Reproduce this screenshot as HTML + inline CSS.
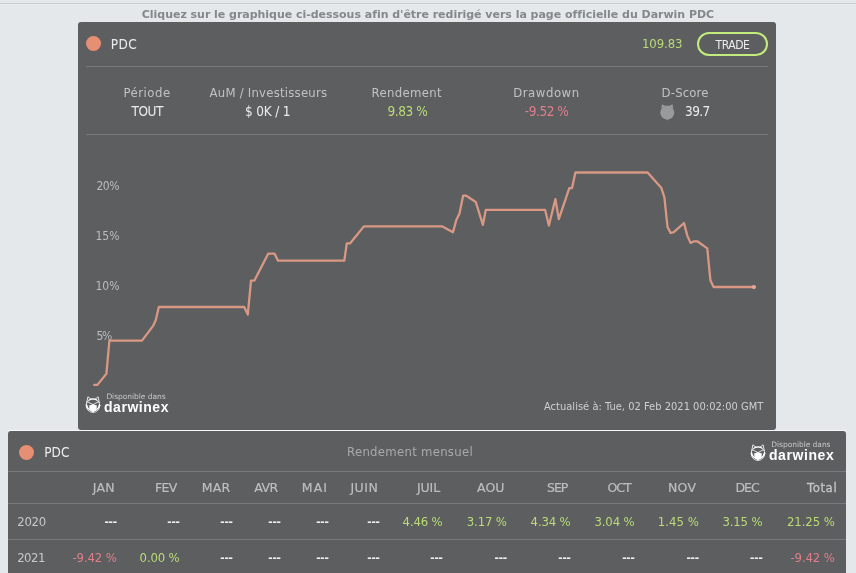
<!DOCTYPE html>
<html lang="fr">
<head>
<meta charset="utf-8">
<title>Darwin PDC</title>
<style>
html,body{margin:0;padding:0;}
body{width:856px;height:573px;overflow:hidden;background:#e4e8eb;position:relative;font-family:"DejaVu Sans Condensed","Liberation Sans",sans-serif;font-size:13px;}
.abs{position:absolute;white-space:nowrap;line-height:1;}
#topline{left:0;top:3px;width:856px;height:1px;background:#c9cdd0;}
#topline2{left:0;top:4px;width:856px;height:1px;background:#e9edf0;}
.ttl{font-family:"DejaVu Sans","Liberation Sans",sans-serif;font-weight:bold;color:#84888c;}
.panel{background:#5c5e60;}
#p1{left:78px;top:22px;width:698px;height:408px;border-radius:3px;}
#gap{left:8px;top:430px;width:838px;height:1px;background:#f5f7f8;}
#p2{left:8px;top:431px;width:838px;height:150px;border-radius:3px 3px 0 0;}
.dot{width:15px;height:15px;border-radius:50%;background:#e68f72;}
.sep{height:1px;background:#77797b;}
.lbl{color:#c2c2c2;}
.val{color:#ececec;}
.g{color:#bbdb76;}
.r{color:#e07f8a;}
.ylb{color:#bcbcbc;}
.upd{color:#cfcfcf;}
.lga{color:#c8c8c8;font-family:"DejaVu Sans","Liberation Sans",sans-serif;}
.lgb{font-family:"Liberation Sans","DejaVu Sans",sans-serif;font-weight:bold;color:#fff;}
.rm{color:#a9a9a9;}
.th{color:#bebebe;font-family:"DejaVu Sans","Liberation Sans",sans-serif;-webkit-text-stroke:0.2px #bebebe;}
.tot{font-family:"DejaVu Sans Condensed","Liberation Sans",sans-serif;color:#c4c4c4;-webkit-text-stroke:0.3px #c4c4c4;}
.yr{color:#c8c8c8;}
.dash{font-family:"Liberation Sans","DejaVu Sans",sans-serif;font-weight:bold;color:#f2f2f2;}
#trade{left:697px;top:32px;width:67px;height:20px;border:2px solid #c3ec7c;border-radius:12px;}
</style>
</head>
<body>
<div class="abs" id="topline"></div>
<div class="abs" id="topline2"></div>
<div class="abs ttl" id="title" style="left:141.80px;top:9.00px;letter-spacing:-0.028px;font-size:11px;">Cliquez sur le graphique ci-dessous afin d'être redirigé vers la page officielle du Darwin PDC</div>

<div class="abs panel" id="p1"></div>
<div class="abs" id="gap"></div>
<div class="abs panel" id="p2"></div>

<section id="widget-chart">
<header>
<!-- panel 1 header -->
<div class="abs dot" style="left:86px;top:36px;"></div>
<div class="abs val" id="pdc1" style="left:110.80px;top:38.00px;letter-spacing:0.411px;font-size:13.5px;">PDC</div>
<div class="abs val g" id="quote" style="left:641.90px;top:37.00px;letter-spacing:-0.054px;">109.83</div>
<div class="abs" id="trade"></div>
<div class="abs val" id="tradet" style="left:715.50px;top:39.00px;letter-spacing:-0.451px;font-size:12px;">TRADE</div>
<div class="abs sep" style="left:86px;top:66px;width:682px;"></div>
<div class="abs sep" style="left:86px;top:134px;width:682px;"></div>

</header>
<!-- stats -->
<div id="stats">
<div class="abs lbl" id="l1" style="left:123.40px;top:86.00px;letter-spacing:0.530px;">Période</div>
<div class="abs val" id="v1" style="left:131.60px;top:105.00px;letter-spacing:-0.522px;font-size:13.5px;">TOUT</div>
<div class="abs lbl" id="l2" style="left:209.60px;top:86.00px;letter-spacing:0.223px;">AuM / Investisseurs</div>
<div class="abs val" id="v2" style="left:245.00px;top:105.00px;letter-spacing:-0.182px;font-size:13.5px;">$ 0K / 1</div>
<div class="abs lbl" id="l3" style="left:371.60px;top:86.00px;letter-spacing:0.339px;">Rendement</div>
<div class="abs val g" id="v3" style="left:387.50px;top:105.00px;letter-spacing:-0.418px;font-size:13.5px;">9.83 %</div>
<div class="abs lbl" id="l4" style="left:513.20px;top:86.00px;letter-spacing:0.544px;">Drawdown</div>
<div class="abs val r" id="v4" style="left:524.80px;top:105.00px;letter-spacing:-0.462px;font-size:13.5px;">-9.52 %</div>
<div class="abs lbl" id="l5" style="left:661.60px;top:86.00px;letter-spacing:0.157px;">D-Score</div>
<div class="abs val" id="v5" style="left:685.00px;top:105.00px;letter-spacing:-0.569px;font-size:13.5px;">39.7</div>
<svg class="abs" id="dowl" style="left:659px;top:103px;" width="17" height="18" viewBox="0 0 17 18">
<g fill="#9a9a9a">
<circle cx="8.3" cy="9.6" r="7"/>
<path d="M2.2,5.6 L3.1,1.3 L6.6,2.9 Z M14.4,5.6 L13.5,1.3 L10,2.9 Z M7,16.2 L8.3,17.4 L9.6,16.2 Z"/>
</g>
</svg>

</div>
<!-- chart -->
<figure id="chartwrap" style="margin:0">
<div class="abs ylb" id="y20" style="left:96.40px;top:180.00px;letter-spacing:-0.467px;font-size:12px;">20%</div>
<div class="abs ylb" id="y15" style="left:95.40px;top:230.00px;letter-spacing:0.033px;font-size:12px;">15%</div>
<div class="abs ylb" id="y10" style="left:95.40px;top:280.00px;letter-spacing:0.033px;font-size:12px;">10%</div>
<div class="abs ylb" id="y5" style="left:96.40px;top:330.00px;letter-spacing:-1.267px;font-size:12px;">5%</div>
<svg class="abs" id="chart" style="left:78px;top:135px;" width="698" height="294" viewBox="78 135 698 294">
<polyline fill="none" stroke="#d89884" stroke-width="2.3" stroke-linejoin="round" stroke-linecap="round" points="94.2,384.9 97.4,384.9 106.4,373.8 109.4,340.6 142,340.6 153.3,325.6 155.8,320.1 158.8,307 244.2,307 247.8,314.6 251,280.6 254.4,280.6 268.2,253.7 274.6,253.7 278,260.7 344.3,260.7 346.8,243.3 350.2,243.3 363.9,226.4 442.4,226.4 453,232.3 456.4,219.7 459.5,213.5 463.1,195.7 466.2,195.7 475.8,202 482.9,224.9 485.8,209.8 545.1,209.8 548.9,225.6 555.4,199.1 558.8,219.1 569.3,188.1 572,188.1 575.4,172.5 647.6,172.5 661.2,187.7 664.4,197.4 667.5,227 670.6,233 673.8,232.2 684,223 687.4,235.9 690.5,242.9 694.2,241.3 697.3,241.3 707.3,248.4 710.4,280.3 713.6,287 753.8,287"/>
<circle cx="753.9" cy="287.1" r="2.1" fill="#e6a898"/>
</svg>
<div class="abs upd" id="upd" style="left:544.00px;top:400.50px;letter-spacing:0.026px;font-size:11px;">Actualisé à: Tue, 02 Feb 2021 00:02:00 GMT</div>

</figure>
<footer>
<!-- logo 1 -->
<svg class="abs owl" style="left:85px;top:395.5px;" width="16" height="18" viewBox="0 0 16 18">
<g fill="none" stroke="#fff" stroke-width="0.85" stroke-linejoin="round" stroke-linecap="round">
<circle cx="8" cy="9.6" r="6.8"/>
<path d="M1.7,6.6 L2.9,0.8 L5.9,3.2 M14.3,6.6 L13.1,0.8 L10.1,3.2"/>
<path d="M3.4,6.2 L8,8.6 L12.6,6.2" stroke-width="0.8"/>
<path d="M4.2,4 Q8,2 11.8,4" stroke-width="1.1"/>
<path d="M1.5,9 A6.6,6.6 0 0 0 14.5,9" stroke-width="1.5"/>
</g>
<path d="M4.1,9.4 L8,8.2 L11.9,9.4 L11.3,14 L8,16.4 L4.7,14 Z" fill="#fff"/>
</svg>
<div class="abs lga" id="lg1a" style="left:106.40px;top:393.00px;letter-spacing:-0.043px;font-size:7.5px;">Disponible dans</div>
<div class="abs lgb" id="lg1b" style="left:104.00px;top:400.00px;letter-spacing:0.542px;font-size:14px;">darwinex</div>

</footer>
</section>
<section id="widget-monthly">
<!-- panel 2 -->
<div class="abs dot" style="left:19px;top:445px;"></div>
<div class="abs val" id="pdc2" style="left:44.20px;top:446.00px;letter-spacing:0.061px;font-size:13.5px;">PDC</div>
<div class="abs rm" id="rm" style="left:347.10px;top:445.00px;letter-spacing:0.282px;">Rendement mensuel</div>
<svg class="abs owl" style="left:750px;top:443.5px;" width="16" height="18" viewBox="0 0 16 18">
<g fill="none" stroke="#fff" stroke-width="0.85" stroke-linejoin="round" stroke-linecap="round">
<circle cx="8" cy="9.6" r="6.8"/>
<path d="M1.7,6.6 L2.9,0.8 L5.9,3.2 M14.3,6.6 L13.1,0.8 L10.1,3.2"/>
<path d="M3.4,6.2 L8,8.6 L12.6,6.2" stroke-width="0.8"/>
<path d="M4.2,4 Q8,2 11.8,4" stroke-width="1.1"/>
<path d="M1.5,9 A6.6,6.6 0 0 0 14.5,9" stroke-width="1.5"/>
</g>
<path d="M4.1,9.4 L8,8.2 L11.9,9.4 L11.3,14 L8,16.4 L4.7,14 Z" fill="#fff"/>
</svg>
<div class="abs lga" id="lg2a" style="left:771.30px;top:441.00px;letter-spacing:-0.043px;font-size:7.5px;">Disponible dans</div>
<div class="abs lgb" id="lg2b" style="left:769.00px;top:448.00px;letter-spacing:0.571px;font-size:14px;">darwinex</div>
<div class="abs sep" style="left:8px;top:471px;width:838px;"></div>
<div class="abs sep" style="left:8px;top:503px;width:838px;"></div>
<div class="abs sep" style="left:8px;top:539px;width:838px;"></div>
<div class="abs th" id="h0" style="left:92.80px;top:482.00px;letter-spacing:0.241px;font-size:12.5px;">JAN</div>
<div class="abs th" id="h1" style="left:155.00px;top:482.00px;letter-spacing:-0.694px;font-size:12.5px;">FEV</div>
<div class="abs th" id="h2" style="left:201.70px;top:482.00px;letter-spacing:0.182px;font-size:12.5px;">MAR</div>
<div class="abs th" id="h3" style="left:254.20px;top:482.00px;letter-spacing:-0.501px;font-size:12.5px;">AVR</div>
<div class="abs th" id="h4" style="left:301.80px;top:482.00px;letter-spacing:1.082px;font-size:12.5px;">MAI</div>
<div class="abs th" id="h5" style="left:350.40px;top:482.00px;letter-spacing:0.493px;font-size:12.5px;">JUIN</div>
<div class="abs th" id="h6" style="left:417.00px;top:482.00px;letter-spacing:-0.107px;font-size:12.5px;">JUIL</div>
<div class="abs th" id="h7" style="left:477.00px;top:482.00px;letter-spacing:0.065px;font-size:12.5px;">AOU</div>
<div class="abs th" id="h8" style="left:547.10px;top:482.00px;letter-spacing:-1.066px;font-size:12.5px;">SEP</div>
<div class="abs th" id="h9" style="left:607.50px;top:482.00px;letter-spacing:-0.983px;font-size:12.5px;">OCT</div>
<div class="abs th" id="h10" style="left:667.90px;top:482.00px;letter-spacing:0.365px;font-size:12.5px;">NOV</div>
<div class="abs th" id="h11" style="left:735.50px;top:482.00px;letter-spacing:-1.012px;font-size:12.5px;">DEC</div>
<div class="abs th tot" id="h12" style="left:807.10px;top:481.00px;letter-spacing:0.616px;">Total</div>
<div class="abs yr" id="yr0" style="left:17.20px;top:515.00px;letter-spacing:-0.239px;">2020</div>
<div class="abs td dash" id="a0" style="left:104.40px;top:515.00px;letter-spacing:-0.179px;">---</div>
<div class="abs td dash" id="a1" style="left:167.30px;top:515.00px;letter-spacing:-0.179px;">---</div>
<div class="abs td dash" id="a2" style="left:220.30px;top:515.00px;letter-spacing:-0.179px;">---</div>
<div class="abs td dash" id="a3" style="left:268.30px;top:515.00px;letter-spacing:-0.179px;">---</div>
<div class="abs td dash" id="a4" style="left:316.20px;top:515.00px;letter-spacing:-0.179px;">---</div>
<div class="abs td dash" id="a5" style="left:367.30px;top:515.00px;letter-spacing:-0.179px;">---</div>
<div class="abs td g" id="a6" style="left:402.60px;top:515.00px;letter-spacing:-0.149px;">4.46 %</div>
<div class="abs td g" id="a7" style="left:466.80px;top:515.00px;letter-spacing:-0.149px;">3.17 %</div>
<div class="abs td g" id="a8" style="left:530.60px;top:515.00px;letter-spacing:-0.149px;">4.34 %</div>
<div class="abs td g" id="a9" style="left:594.50px;top:515.00px;letter-spacing:-0.149px;">3.04 %</div>
<div class="abs td g" id="a10" style="left:657.70px;top:515.00px;letter-spacing:0.051px;">1.45 %</div>
<div class="abs td g" id="a11" style="left:722.40px;top:515.00px;letter-spacing:-0.149px;">3.15 %</div>
<div class="abs td g" id="a12" style="left:787.00px;top:515.00px;letter-spacing:-0.081px;">21.25 %</div>
<div class="abs yr" id="yr1" style="left:17.20px;top:551.00px;letter-spacing:-0.506px;">2021</div>
<div class="abs td r" id="b0" style="left:72.50px;top:551.00px;letter-spacing:-0.128px;">-9.42 %</div>
<div class="abs td g" id="b1" style="left:139.60px;top:551.00px;letter-spacing:-0.149px;">0.00 %</div>
<div class="abs td dash" id="b2" style="left:220.30px;top:551.00px;letter-spacing:-0.179px;">---</div>
<div class="abs td dash" id="b3" style="left:268.30px;top:551.00px;letter-spacing:-0.179px;">---</div>
<div class="abs td dash" id="b4" style="left:316.20px;top:551.00px;letter-spacing:-0.179px;">---</div>
<div class="abs td dash" id="b5" style="left:367.30px;top:551.00px;letter-spacing:-0.179px;">---</div>
<div class="abs td dash" id="b6" style="left:430.30px;top:551.00px;letter-spacing:-0.179px;">---</div>
<div class="abs td dash" id="b7" style="left:494.50px;top:551.00px;letter-spacing:-0.179px;">---</div>
<div class="abs td dash" id="b8" style="left:558.30px;top:551.00px;letter-spacing:-0.179px;">---</div>
<div class="abs td dash" id="b9" style="left:622.20px;top:551.00px;letter-spacing:-0.179px;">---</div>
<div class="abs td dash" id="b10" style="left:686.40px;top:551.00px;letter-spacing:-0.179px;">---</div>
<div class="abs td dash" id="b11" style="left:750.10px;top:551.00px;letter-spacing:-0.179px;">---</div>
<div class="abs td r" id="b12" style="left:790.50px;top:551.00px;letter-spacing:-0.128px;">-9.42 %</div>
</section>
</body>
</html>
